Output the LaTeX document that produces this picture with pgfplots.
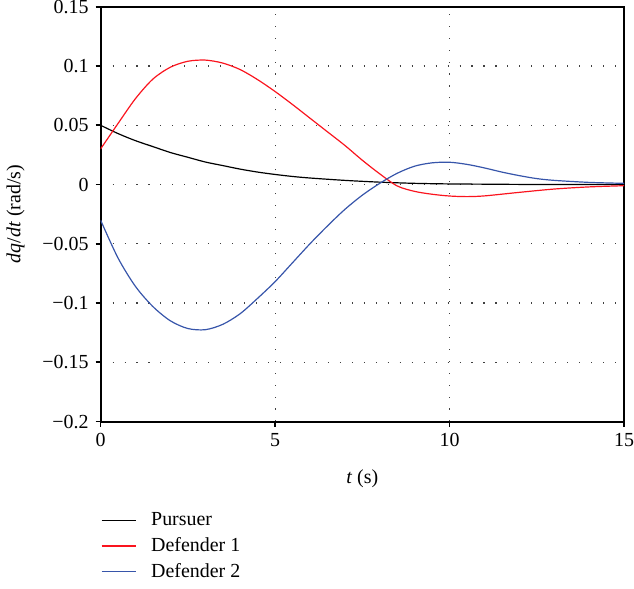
\documentclass[border=0pt]{standalone}
\usepackage{pgfplots}
\pgfplotsset{compat=1.18}
\usepackage{fontspec}
\setmainfont{Liberation Serif}

\definecolor{defblue}{RGB}{55,85,170}
\definecolor{defred}{RGB}{250,20,30}

\begin{document}
\begin{tikzpicture}
\begin{axis}[
    scale only axis,
    width=262.5pt,
    height=208pt,
    xmin=0, xmax=15,
    ymin=-0.2, ymax=0.15,
    xtick={0,5,10,15},
    ytick={-0.2,-0.15,-0.1,-0.05,0,0.05,0.1,0.15},
    yticklabels={−0.2,−0.15,−0.1,−0.05,0,0.05,0.1,0.15},
    /pgf/number format/assume math mode=true,
    tick align=outside,
    xtick pos=bottom,
    ytick pos=left,
    major tick length=2.5pt,
    tick style={black, line width=0.8pt},
    axis line style={line width=1pt},
    grid=major,
    grid style={black!75, line width=0.55pt, dash pattern=on 0.55pt off 5.45pt},
    ticklabel style={font=\fontsize{10}{12}\selectfont},
    xticklabel style={inner xsep=0pt},
    yticklabel style={inner ysep=0pt},
    xlabel={\textit{t} (s)},
    ylabel={\textit{dq}/\textit{dt} (rad/s)},
    label style={font=\fontsize{10}{12}\selectfont},
    xlabel style={yshift=-4.5pt},
    ylabel style={yshift=2pt},
    legend style={draw=none, fill=none, at={(0,-0.2)}, anchor=north west,
        font=\fontsize{10}{12}\selectfont, row sep=0.3pt, inner xsep=0pt,
        /tikz/every odd column/.append style={column sep=5.5pt}},
    legend cell align=left,
    every axis plot/.append style={line width=0.6pt, smooth, no markers},
]
\addplot[black] coordinates {
    (0,0.050) (0.5,0.043) (1,0.037) (1.5,0.032) (2,0.027) (2.5,0.023) (3,0.019)
    (3.5,0.016) (4,0.013) (4.5,0.0105) (5,0.0085) (5.5,0.0068) (6,0.0055)
    (7,0.0035) (8,0.002) (9,0.001) (10,0.0005) (11,0.0003) (12,0.0001) (13,0.00005) (15,0)
};
\addplot[defred] coordinates {
    (0,0.030) (0.5,0.0515) (1,0.0725) (1.5,0.089) (2,0.099) (2.5,0.104) (3,0.105)
    (3.5,0.1025) (4,0.097) (4.5,0.0885) (5,0.0785) (5.5,0.0675) (6,0.056)
    (6.5,0.0445) (7,0.033) (7.5,0.0205) (8,0.0090) (8.5,-0.0012) (9,-0.0058)
    (9.5,-0.0082) (10,-0.0097) (10.5,-0.0102) (11,-0.0096) (12,-0.0066)
    (13,-0.0038) (14,-0.002) (15,-0.001)
};
\addplot[defblue] coordinates {
    (0,-0.030) (0.5,-0.062) (1,-0.086) (1.5,-0.103) (2,-0.115) (2.5,-0.1215)
    (3,-0.1225) (3.5,-0.118) (4,-0.109) (4.5,-0.096) (5,-0.082)
    (5.5,-0.066) (6,-0.050) (6.5,-0.035) (7,-0.021) (7.5,-0.009) (8,0.001)
    (8.5,0.0095) (9,0.0155) (9.5,0.0183) (10,0.0188) (10.5,0.017) (11,0.014)
    (11.5,0.0105) (12,0.0075) (12.5,0.005) (13,0.0035) (14,0.0018) (15,0.001)
};
\legend{Pursuer, Defender 1, Defender 2}
\end{axis}
\end{tikzpicture}
\end{document}
